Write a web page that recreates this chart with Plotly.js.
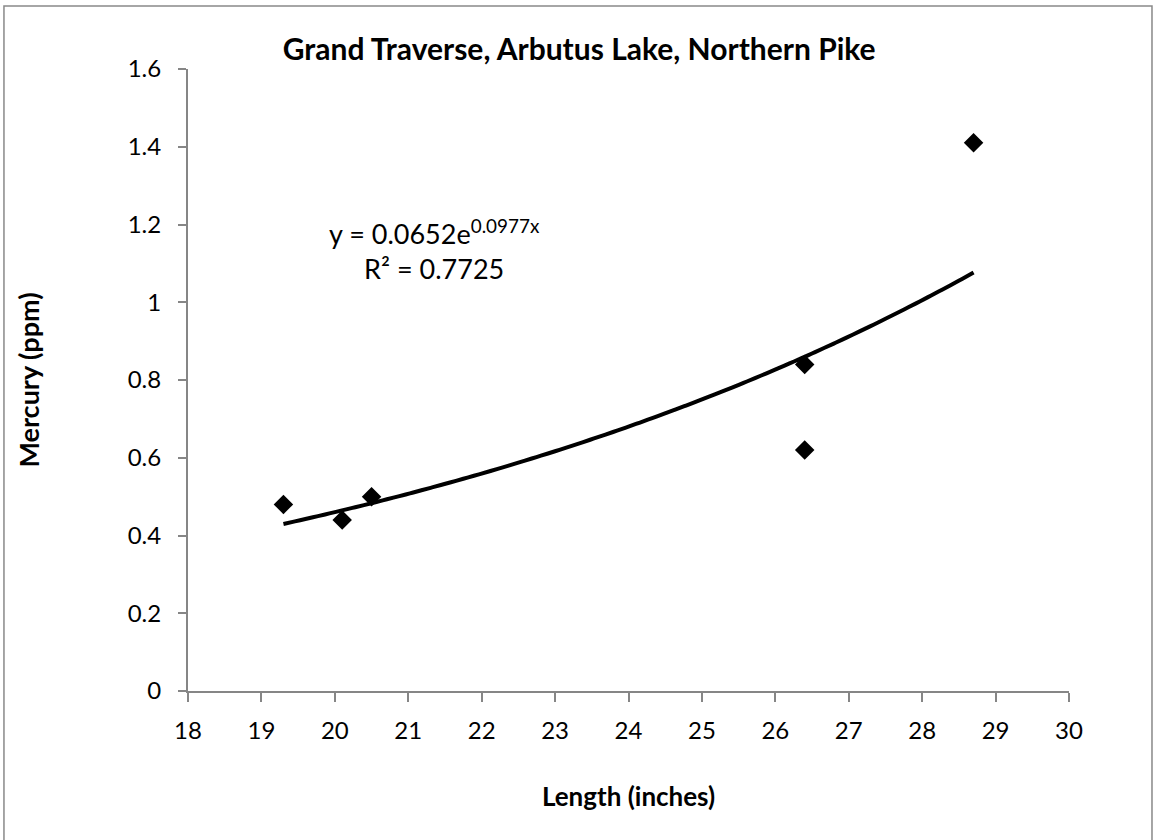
<!DOCTYPE html>
<html>
<head>
<meta charset="utf-8">
<script src="https://cdn.plot.ly/plotly-3.0.1.min.js"></script>
<style>body{margin:0;padding:0;background:#fff;}#chart{width:1156px;height:840px;}</style>
</head>
<body>
<div id="chart"></div>
<script>
// Data
const lengthInches = [19.3, 20.1, 20.5, 26.4, 26.4, 28.7];
const mercuryPpm = [0.48, 0.44, 0.50, 0.84, 0.62, 1.41];
// Exponential trendline coefficients as printed on the chart
const trendA = 0.0652;
const trendB = 0.0977;
const xTickVals = [18, 19, 20, 21, 22, 23, 24, 25, 26, 27, 28, 29, 30];
const yTickVals = [0, 0.2, 0.4, 0.6, 0.8, 1, 1.2, 1.4, 1.6];

const xMin = Math.min(...lengthInches), xMax = Math.max(...lengthInches);
const trendX = [], trendY = [];
const nSteps = 60;
for (let i = 0; i <= nSteps; i++) {
  const x = xMin + (xMax - xMin) * i / nSteps;
  trendX.push(x);
  trendY.push(trendA * Math.exp(trendB * x));
}

const FONT = 'Lato, "Open Sans", sans-serif';
const axisColor = '#868686';

const data = [
  {
    x: trendX, y: trendY, type: 'scatter', mode: 'lines',
    line: {color: '#000', width: 4, shape: 'spline'},
    hoverinfo: 'skip', showlegend: false
  },
  {
    x: lengthInches, y: mercuryPpm, type: 'scatter', mode: 'markers',
    marker: {symbol: 'diamond', size: 15, color: '#000'},
    showlegend: false
  }
];

const layout = {
  width: 1156, height: 840, autosize: false,
  margin: {l: 188, r: 87, t: 69, b: 149, pad: 0},
  paper_bgcolor: '#fff', plot_bgcolor: '#fff',
  font: {family: FONT, color: '#000', size: 24},
  title: {
    text: '<b>Grand Traverse, Arbutus Lake, Northern Pike</b>',
    font: {family: FONT, size: 30, color: '#000'},
    x: 0.501, xanchor: 'center', y: 0.941, yanchor: 'middle', xref: 'container'
  },
  xaxis: {
    range: [18, 30], tickvals: xTickVals, ticktext: xTickVals.map(String),
    showgrid: false, zeroline: false, showline: true,
    linecolor: axisColor, linewidth: 2,
    ticks: 'outside', ticklen: 9, tickwidth: 2, tickcolor: axisColor,
    ticklabelstandoff: 8,
    tickfont: {family: FONT, size: 24, color: '#000'},
    title: {text: '<b>Length (inches)</b>', font: {family: FONT, size: 26, color: '#000'}, standoff: 45}
  },
  yaxis: {
    range: [0, 1.6], tickvals: yTickVals, ticktext: yTickVals.map(String),
    showgrid: false, zeroline: false, showline: true,
    linecolor: axisColor, linewidth: 2,
    ticks: 'outside', ticklen: 8, tickwidth: 2, tickcolor: axisColor,
    ticklabelstandoff: 12,
    tickfont: {family: FONT, size: 24, color: '#000'},
    title: {text: '<b>Mercury (ppm)</b>', font: {family: FONT, size: 27, color: '#000'}, standoff: 80}
  },
  annotations: [{
    x: 21.36, y: 1.135, xref: 'x', yref: 'y',
    text: 'y = 0.0652e<sup>0.0977x</sup><br>R² = 0.7725',
    showarrow: false, align: 'center',
    font: {family: FONT, size: 27, color: '#000'}
  }],
  shapes: [{
    type: 'rect', xref: 'paper', yref: 'paper',
    x0: -0.2089, x1: 1.0942, y0: -0.26, y1: 1.1013,
    line: {color: '#898989', width: 1.5}, fillcolor: 'rgba(0,0,0,0)', layer: 'below'
  }]
};

Plotly.newPlot('chart', data, layout, {displayModeBar: false, staticPlot: true});
</script>
</body>
</html>
